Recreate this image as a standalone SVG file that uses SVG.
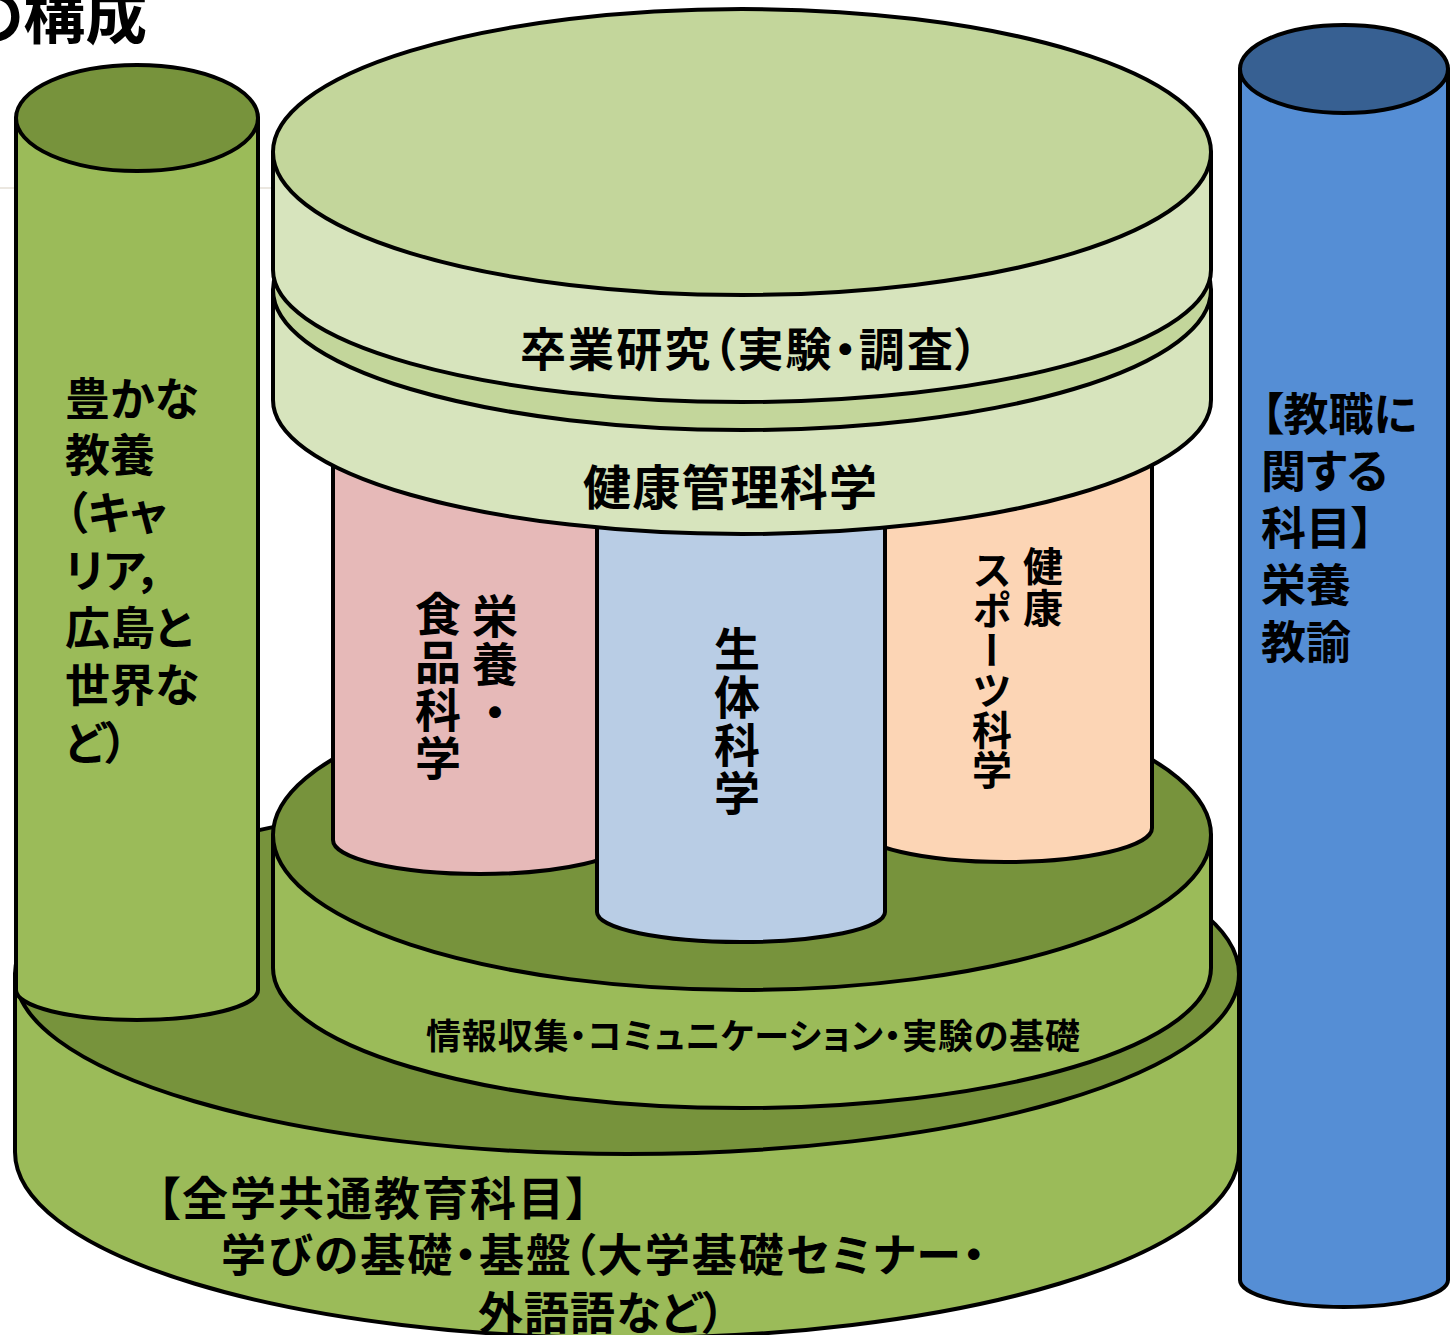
<svg xmlns="http://www.w3.org/2000/svg" width="1450" height="1335" viewBox="0 0 1450 1335">
<style>
.s{stroke:#000;stroke-width:4;stroke-linejoin:round}
.olive{fill:#9bbb59}.oliveTop{fill:#77933c}
.lg{fill:#d7e4bd}.lgTop{fill:#c3d69b}
.t{font-family:"Noto Sans CJK JP","Noto Sans CJK SC",sans-serif;font-weight:bold;fill:#000;font-feature-settings:"palt"}
.v{font-family:"Noto Sans CJK JP","Noto Sans CJK SC",sans-serif;font-weight:bold;fill:#000;writing-mode:vertical-rl}
</style>
<rect width="1450" height="1335" fill="#fff"/>
<line x1="0" y1="188" x2="280" y2="188" stroke="#ebe7e0" stroke-width="2"/>
<text class="t" x="-38" y="39" font-size="62">の構成</text>

<g id="base">
  <path class="s olive" d="M15,974 V1152 A612 186 0 0 0 1239,1152 V974 Z"/>
  <ellipse class="s oliveTop" cx="627" cy="974" rx="612" ry="180"/>
  <text class="t" x="157" y="1215" font-size="46" textLength="432" lengthAdjust="spacing">【全学共通教育科目】</text>
  <text class="t" x="221" y="1272" font-size="45" textLength="764" lengthAdjust="spacing">学びの基礎・基盤（大学基礎セミナー・</text>
  <text class="t" x="478" y="1330" font-size="45" textLength="247" lengthAdjust="spacing">外語語など）</text>
</g>

<g id="middle">
  <path class="s olive" d="M273,835 V968 A469 140 0 0 0 1211,968 V835 Z"/>
  <ellipse class="s oliveTop" cx="742" cy="835" rx="469" ry="155"/>
  <text class="t" x="426" y="1049" font-size="35" textLength="654" lengthAdjust="spacing">情報収集・コミュニケーション・実験の基礎</text>
</g>

<g id="nutrition">
  <path class="s" fill="#e6b9b8" d="M333,400 V840 A147 34 0 0 0 627,840 V400 Z"/>
  <text class="v" x="495" y="593" font-size="46" letter-spacing="2">栄養・</text>
  <text class="v" x="438" y="591" font-size="46" letter-spacing="2">食品科学</text>
</g>

<g id="sports">
  <path class="s" fill="#fcd5b5" d="M858,400 V828 A147 34 0 0 0 1152,828 V400 Z"/>
  <text class="v" x="1043" y="546" font-size="40" letter-spacing="2">健康</text>
  <text class="v" x="992" y="550" font-size="40">スポーツ科学</text>
</g>

<g id="biology">
  <path class="s" fill="#b9cde5" d="M597,450 V912 A144 30 0 0 0 885,912 V450 Z"/>
  <text class="v" x="737" y="626" font-size="46" letter-spacing="2">生体科学</text>
</g>

<g id="health">
  <path class="s lg" d="M273,290 V400 A469 134 0 0 0 1211,400 V290 Z"/>
  <ellipse class="s lgTop" cx="742" cy="290" rx="469" ry="140"/>
  <text class="t" x="583" y="505" font-size="48" textLength="294" lengthAdjust="spacing">健康管理科学</text>
</g>

<g id="thesis">
  <path class="s lg" d="M273,152 V270 A469 132 0 0 0 1211,270 V152 Z"/>
  <ellipse class="s lgTop" cx="742" cy="152" rx="469" ry="143"/>
  <text class="t" x="520" y="366" font-size="46" textLength="458" lengthAdjust="spacing">卒業研究（実験・調査）</text>
</g>

<g id="liberal">
  <path class="s olive" d="M16,118 V990 A121 30 0 0 0 258,990 V118 Z"/>
  <ellipse class="s oliveTop" cx="137" cy="118" rx="121" ry="53"/>
  <text class="t" font-size="45">
    <tspan x="65" y="416">豊かな</tspan>
    <tspan x="65" y="472">教養</tspan>
    <tspan x="65" y="530">（キャ</tspan>
    <tspan x="65" y="588">リア，</tspan>
    <tspan x="65" y="645">広島と</tspan>
    <tspan x="65" y="702">世界な</tspan>
    <tspan x="65" y="760">ど）</tspan>
  </text>
</g>

<g id="teacher">
  <path class="s" fill="#558ed5" d="M1240,69 V1280 A104 27 0 0 0 1448,1280 V69 Z"/>
  <ellipse class="s" fill="#376092" cx="1344" cy="69" rx="104" ry="44"/>
  <text class="t" font-size="45">
    <tspan x="1261" y="431">【教職に</tspan>
    <tspan x="1261" y="488">関する</tspan>
    <tspan x="1261" y="545">科目】</tspan>
    <tspan x="1261" y="602">栄養</tspan>
    <tspan x="1261" y="659">教諭</tspan>
  </text>
</g>

<g id="connectors"/>
</svg>
